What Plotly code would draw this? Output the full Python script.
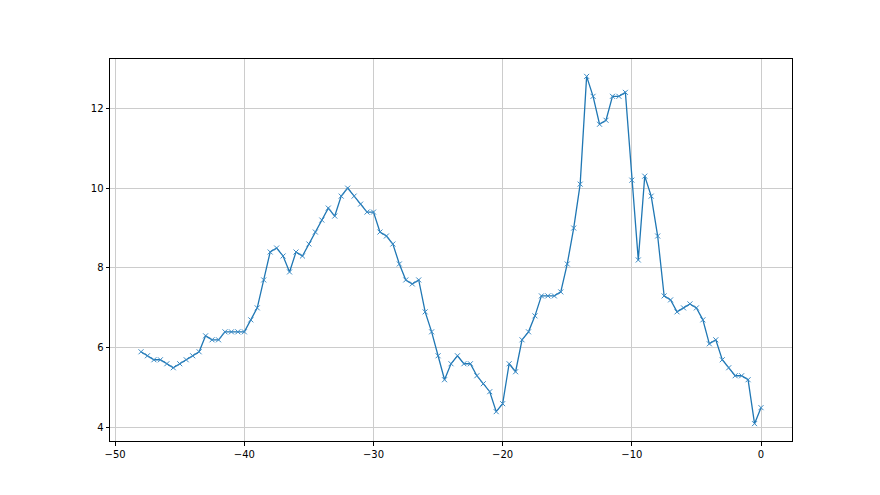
import numpy as np
import plotly.graph_objects as go

x_values = [-48 + 0.5 * i for i in range(97)]
y_values = [
    5.9, 5.8, 5.7, 5.7, 5.6, 5.5, 5.6, 5.7, 5.8, 5.9,
    6.3, 6.2, 6.2, 6.4, 6.4, 6.4, 6.4, 6.7, 7.0, 7.7,
    8.4, 8.5, 8.3, 7.9, 8.4, 8.3, 8.6, 8.9, 9.2, 9.5,
    9.3, 9.8, 10.0, 9.8, 9.6, 9.4, 9.4, 8.9, 8.8, 8.6,
    8.1, 7.7, 7.6, 7.7, 6.9, 6.4, 5.8, 5.2, 5.6, 5.8,
    5.6, 5.6, 5.3, 5.1, 4.9, 4.4, 4.6, 5.6, 5.4, 6.2,
    6.4, 6.8, 7.3, 7.3, 7.3, 7.4, 8.1, 9.0, 10.1, 12.8,
    12.3, 11.6, 11.7, 12.3, 12.3, 12.4, 10.2, 8.2, 10.3, 9.8,
    8.8, 7.3, 7.2, 6.9, 7.0, 7.1, 7.0, 6.7, 6.1, 6.2,
    5.7, 5.5, 5.3, 5.3, 5.2, 4.1, 4.5,
]
x_ticks = [-50, -40, -30, -20, -10, 0]
y_ticks = [4, 6, 8, 10, 12]

fig = go.Figure()
fig.add_trace(go.Scatter(
    x=x_values, y=y_values, mode="lines+markers",
    line=dict(color="#1f77b4", width=1.3),
    marker=dict(symbol="x-thin", size=5, line=dict(color="#3a8ac4", width=1)),
    showlegend=False,
))

xmin, xmax = min(x_values), max(x_values)
ymin, ymax = min(y_values), max(y_values)
xpad = (xmax - xmin) * 0.05
ypad = (ymax - ymin) * 0.05

axis_common = dict(
    showline=True, linecolor="black", linewidth=1, mirror=True,
    ticks="outside", ticklen=3.5, tickwidth=0.8, tickcolor="black",
    showgrid=True, gridcolor="#cccccc", gridwidth=0.8, zeroline=False,
    tickfont=dict(family="DejaVu Sans", size=10, color="black"),
)

fig.update_layout(
    width=880, height=495,
    margin=dict(l=102, r=96, t=51, b=62),
    plot_bgcolor="white", paper_bgcolor="white",
    xaxis=dict(range=[xmin - xpad, xmax + xpad], tickvals=x_ticks, **axis_common),
    yaxis=dict(range=[ymin - ypad, ymax + ypad], tickvals=y_ticks, **axis_common),
)

fig.write_html("out.html")
